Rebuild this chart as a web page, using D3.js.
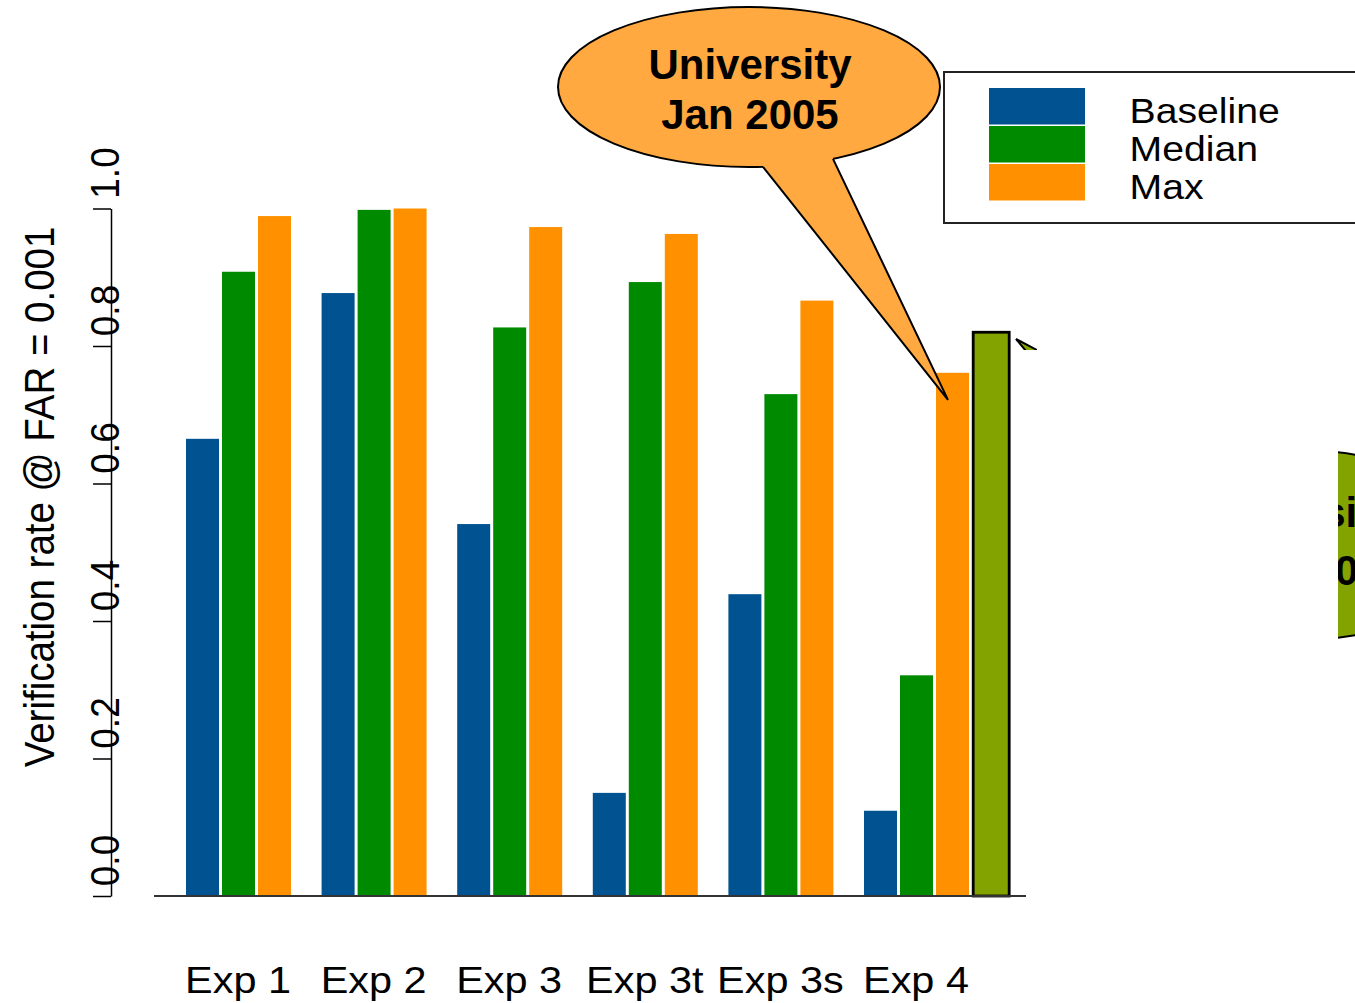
<!DOCTYPE html>
<html>
<head>
<meta charset="utf-8">
<script src="https://cdn.jsdelivr.net/npm/d3@7"></script>
<style>
  html, body { margin: 0; padding: 0; background: #fff; }
  svg { display: block; }
  text { font-family: "Liberation Sans", Arial, Helvetica, sans-serif; }
</style>
</head>
<body>
<div id="chart"></div>
<script>
// Verification rate per experiment, three series per experiment
const categories = ["Exp 1", "Exp 2", "Exp 3", "Exp 3t", "Exp 3s", "Exp 4"];
const seriesNames = ["Baseline", "Median", "Max"];
const baselineValues = [0.665, 0.877, 0.541, 0.150, 0.439, 0.124];
const medianValues   = [0.908, 0.998, 0.827, 0.893, 0.730, 0.321];
const maxValues      = [0.989, 1.000, 0.973, 0.963, 0.866, 0.761];
// Later result shown beside Exp 4
const extraCategory = "Exp 4";
const extraValue = 0.82;
const yTicks = [0.0, 0.2, 0.4, 0.6, 0.8, 1.0];
const yTitle = "Verification rate @ FAR = 0.001";
const calloutLines = ["University", "Jan 2005"];
const sideCalloutLines = ["University", "Jan 2006"];

const seriesValues = [baselineValues, medianValues, maxValues];
const rows = categories.map((c, i) => ({
  category: c,
  values: seriesNames.map((s, j) => ({ series: s, value: seriesValues[j][i] }))
}));

const W = 1355, H = 1003;
const svg = d3.select("#chart").append("svg")
  .attr("width", W).attr("height", H)
  .attr("viewBox", `0 0 ${W} ${H}`);

const defs = svg.append("defs");
defs.append("clipPath").attr("id", "side-clip")
  .append("rect").attr("x", 1338).attr("y", 0).attr("width", 40).attr("height", H);
defs.append("clipPath").attr("id", "tail-clip")
  .append("rect").attr("x", 1000).attr("y", 330).attr("width", 37).attr("height", 20);

const y = d3.scaleLinear().domain([0, 1]).range([896, 208.5]);
const x = d3.scaleBand().domain(categories).range([186, 972])
  .paddingInner(0.2035).paddingOuter(0);
const xs = d3.scaleBand().domain(seriesNames).range([0, 105])
  .paddingInner(1 / 12).paddingOuter(0);
const color = d3.scaleOrdinal().domain(seriesNames)
  .range(["#005390", "#008A00", "#FF9100"]);

// Bars
const groups = svg.append("g").selectAll("g.group")
  .data(rows).join("g")
  .attr("class", "group")
  .attr("transform", d => `translate(${x(d.category)},0)`);

groups.selectAll("rect")
  .data(d => d.values).join("rect")
  .attr("x", d => xs(d.series))
  .attr("width", xs.bandwidth())
  .attr("y", d => y(d.value))
  .attr("height", d => y(0) - y(d.value))
  .attr("fill", d => color(d.series));

// Extra bar with black outline
svg.append("rect")
  .attr("x", x(extraCategory) + xs.step() * 3 + 1.2)
  .attr("width", 36)
  .attr("y", y(extraValue))
  .attr("height", y(0) - y(extraValue))
  .attr("fill", "#82A300")
  .attr("stroke", "#000")
  .attr("stroke-width", 2.8);

// Baseline line
svg.append("line")
  .attr("x1", 154).attr("x2", 1026)
  .attr("y1", y(0)).attr("y2", y(0))
  .attr("stroke", "#333").attr("stroke-width", 2);

// Y axis
const yAxis = svg.append("g")
  .attr("transform", "translate(111,0)")
  .call(d3.axisLeft(y).tickValues(yTicks).tickSize(18).tickSizeOuter(0)
    .tickFormat(d3.format(".1f")));
yAxis.select(".domain").attr("stroke", "#000").attr("stroke-width", 1.5);
yAxis.selectAll(".tick line").attr("stroke", "#000").attr("stroke-width", 1.5);
yAxis.selectAll(".tick text")
  .attr("x", 0).attr("y", 0).attr("dy", 0)
  .attr("text-anchor", "middle")
  .attr("font-size", 37)
  .attr("fill", "#000")
  .attr("transform", "translate(7.5,-36) rotate(-90) scale(1,1.12)");

// Y title
svg.append("text")
  .attr("transform", "translate(54,497) rotate(-90) scale(1,1.12)")
  .attr("text-anchor", "middle")
  .attr("font-size", 38.5)
  .attr("fill", "#000")
  .text(yTitle);

// X labels
const xAxis = svg.append("g")
  .attr("transform", `translate(${-x.bandwidth() / 2 + 52.5},${y(0)})`)
  .call(d3.axisBottom(x).tickSize(0));
xAxis.select(".domain").remove();
xAxis.selectAll(".tick text")
  .attr("y", 0).attr("dy", 0)
  .attr("font-size", 37)
  .attr("fill", "#000")
  .attr("transform", "translate(-0.5,97) scale(1.12,1)");

// Callout for Exp 4 Max
const co = { cx: 749, cy: 87, rx: 191, ry: 80 };
const edgeY = px => co.cy + co.ry * Math.sqrt(1 - Math.pow((px - co.cx) / co.rx, 2));
const b1 = [763, edgeY(763)], b2 = [833, edgeY(833)];
const tip = [x(extraCategory) + xs("Max") + 12, y(maxValues[5]) + 27];
const callout = svg.append("g");
callout.append("ellipse")
  .attr("cx", co.cx).attr("cy", co.cy).attr("rx", co.rx).attr("ry", co.ry)
  .attr("fill", "#FFA940").attr("stroke", "#000").attr("stroke-width", 2);
callout.append("path")
  .attr("d", d3.line()([[b1[0], b1[1] - 12], b1, tip, b2, [b2[0], b2[1] - 12]]))
  .attr("fill", "#FFA940").attr("stroke", "none");
callout.append("path")
  .attr("d", d3.line()([b1, tip, b2]))
  .attr("fill", "none").attr("stroke", "#000").attr("stroke-width", 2)
  .attr("stroke-linejoin", "miter");
callout.selectAll("text")
  .data(calloutLines).join("text")
  .attr("x", 750)
  .attr("y", (d, i) => 79 + i * 50)
  .attr("text-anchor", "middle")
  .attr("font-size", 42)
  .attr("font-weight", "bold")
  .attr("fill", "#000")
  .text(d => d);

// Legend
const legend = svg.append("g");
legend.append("rect")
  .attr("x", 944).attr("y", 72).attr("width", 440).attr("height", 151)
  .attr("fill", "#fff").attr("stroke", "#222").attr("stroke-width", 2);
const li = legend.selectAll("g.item")
  .data(seriesNames).join("g")
  .attr("class", "item")
  .attr("transform", (d, i) => `translate(0,${88 + i * 38})`);
li.append("rect")
  .attr("x", 989).attr("y", 0).attr("width", 96).attr("height", 36.5)
  .attr("fill", d => color(d));
li.append("text")
  .attr("transform", "translate(1129.5,35) scale(1.12,1)")
  .attr("font-size", 35)
  .attr("fill", "#000")
  .text(d => d);

// Neighbouring callout, mostly outside the frame
const side = svg.append("g").attr("clip-path", "url(#side-clip)");
side.append("ellipse")
  .attr("cx", 1296).attr("cy", 545).attr("rx", 190).attr("ry", 95)
  .attr("fill", "#82A300").attr("stroke", "#000").attr("stroke-width", 2);
side.selectAll("text")
  .data(sideCalloutLines).join("text")
  .attr("x", 1293)
  .attr("y", (d, i) => 527 + i * 58)
  .attr("text-anchor", "middle")
  .attr("font-size", 42)
  .attr("font-weight", "bold")
  .attr("fill", "#000")
  .text(d => d);
svg.append("g").attr("clip-path", "url(#tail-clip)")
  .append("path")
  .attr("d", d3.line()([[1016, 339], [1300, 488], [1200, 560]]) + "Z")
  .attr("fill", "#82A300").attr("stroke", "#000").attr("stroke-width", 2);
</script>
</body>
</html>
